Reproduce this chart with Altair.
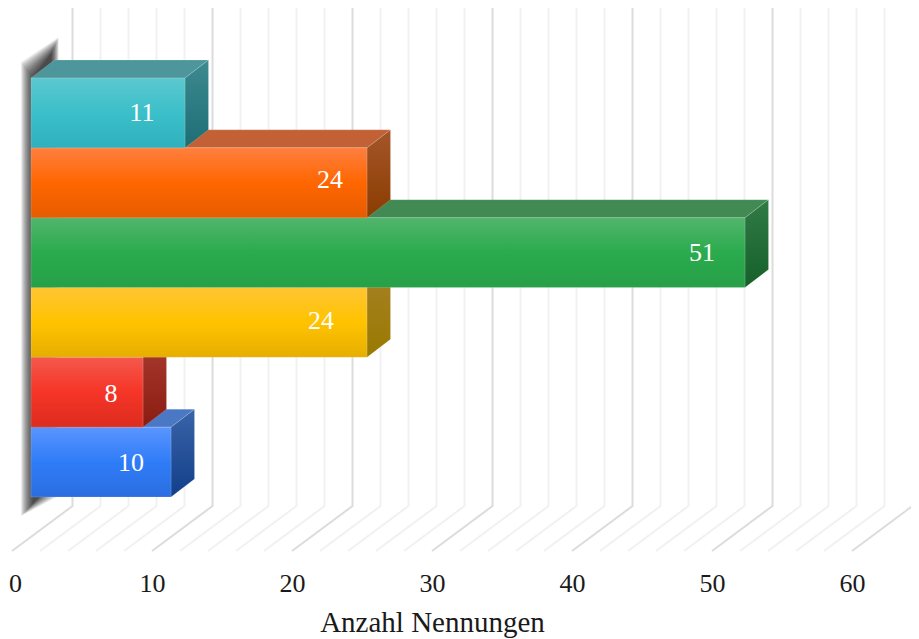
import altair as alt
import pandas as pd

# bottom-to-top drawing order
values = [10, 8, 24, 51, 24, 11]
front_stops = [
    ["#5a95ff", "#2f7cf8", "#2a6ee0"],
    ["#f5584d", "#f53527", "#dd2c1f"],
    ["#ffc533", "#ffc300", "#e6ae00"],
    ["#52b56c", "#2aab4d", "#27a048"],
    ["#ff7f3f", "#ff6600", "#e65c00"],
    ["#5cc8cf", "#3bbfc9", "#2fb1bd"],
]
top_colors = ["#4a78c4", "#b03a30", "#b38a20", "#428a54", "#c26036", "#4d969c"]
side_stops = [
    ["#3a64a8", "#123f8a"],
    ["#a83a2e", "#8a1c12"],
    ["#a78025", "#997a00"],
    ["#2f7a45", "#16602c"],
    ["#a5562a", "#8a3c00"],
    ["#3d8a90", "#1e6e76"],
]
label_dx = [-40, -32, -46, -43, -37, -43]
label_dy = [1, 2, -1, 0, -3, 0]
tick_values = [0, 10, 20, 30, 40, 50, 60]
minor_values = [v for v in range(0, 62, 2) if v % 10 != 0]
axis_title = "Anzahl Nennungen"

FONT = "Liberation Serif"
PX_X = 14.0           # pixels per unit on x
ROW = 69.83           # pixels per bar
W, H = 903, 544
x_dom = [-4 / PX_X, (W - 4) / PX_X]
y_dom = [(497 - (H + 8)) / ROW, (497 - 8) / ROW]
xs = alt.Scale(domain=x_dom, nice=False, zero=False)
ys = alt.Scale(domain=y_dom, nice=False, zero=False)

# depth offsets in data units
bar_x0 = 19 / PX_X
depth_x = 23.5 / PX_X
depth_y = 18 / ROW
floor_front = -54 / ROW
floor_back = -9 / ROW
floor_dx = 60.5 / PX_X
wall_top = y_dom[1]

x_axis = alt.Axis(values=tick_values, grid=False, domain=False, ticks=False,
                  labelFont=FONT, labelFontSize=26, labelColor="#1a1a1a",
                  labelPadding=18, labelFlush=False, labelOverlap=False,
                  labelOffset={"condition": {"test": "datum.value === 0", "value": 3}, "value": 0},
                  format="d", title=axis_title,
                  titleFont=FONT, titleFontSize=29, titleFontWeight="normal",
                  titleColor="#1a1a1a", titleX=424, titleY=79,
                  titleBaseline="alphabetic")


def X(field="x"):
    return alt.X(f"{field}:Q", scale=xs, axis=x_axis)


def Y(field="y"):
    return alt.Y(f"{field}:Q", scale=ys, axis=None)


def grid(vals, color, width):
    rows = []
    for v in vals:
        rows += [
            dict(g=v, o=0, x=v, y=floor_front),
            dict(g=v, o=1, x=v + floor_dx, y=floor_back),
            dict(g=v, o=2, x=v + floor_dx, y=wall_top),
        ]
    return alt.Chart(pd.DataFrame(rows)).mark_line(color=color, strokeWidth=width).encode(
        x=X(), y=Y(), detail="g:N", order="o:Q",
    )


def grad(stops):
    n = len(stops) - 1
    return alt.Gradient(
        gradient="linear", x1=0, y1=0, x2=0, y2=1,
        stops=[alt.GradientStop(offset=i / n, color=c) for i, c in enumerate(stops)],
    )


layers = [grid(minor_values, "#f1f1f1", 2), grid(tick_values, "#dcdcdc", 2)]

# soft shadow of the side wall, built from stacked translucent shapes
n = len(values)
for b in range(-6, 7):
    sh = pd.DataFrame({
        "x": [bar_x0 + (-4 - b) / PX_X, bar_x0 + (24 + b * 0.6) / PX_X],
        "y": [n + (8 + b * 1.3) / ROW, n + (33 + b * 1.3) / ROW],
        "y2": [(-13 - b) / ROW, (7 - b) / ROW],
    })
    layers.append(alt.Chart(sh).mark_area(orient="vertical", fill="#000000", opacity=0.085).encode(
        x=X(), y=Y(), y2="y2:Q",
    ))

edge = dict(stroke="#ffffff", strokeOpacity=0.15, strokeWidth=1)
for i, v in enumerate(values):
    xl, xr = bar_x0, bar_x0 + v
    r0, r1 = i, i + 1
    top = pd.DataFrame({"y": [r1, r1 + depth_y],
                        "x": [xl, xl + depth_x], "x2": [xr, xr + depth_x]})
    layers.append(alt.Chart(top).mark_area(orient="horizontal", fill=top_colors[i], **edge).encode(
        y=Y(), x=X(), x2="x2:Q",
    ))
    side = pd.DataFrame({"x": [xr, xr + depth_x],
                         "y": [r1, r1 + depth_y], "y2": [r0, r0 + depth_y]})
    layers.append(alt.Chart(side).mark_area(orient="vertical", fill=grad(side_stops[i]), **edge).encode(
        x=X(), y=Y(), y2="y2:Q",
    ))
    face = pd.DataFrame({"x": [xl], "x2": [xr], "y": [r1], "y2": [r0]})
    layers.append(alt.Chart(face).mark_rect(fill=grad(front_stops[i]), **edge).encode(
        x=X(), x2="x2:Q", y=Y(), y2="y2:Q",
    ))

for i, v in enumerate(values):
    lab = pd.DataFrame({"x": [bar_x0 + v], "y": [i + 0.5], "t": [str(v)]})
    layers.append(alt.Chart(lab).mark_text(
        font=FONT, fontSize=26, color="#ffffff", align="center", baseline="middle",
        dx=label_dx[i], dy=label_dy[i],
    ).encode(x=X(), y=Y(), text="t:N"))

chart = alt.layer(*layers).properties(
    width=W, height=H, background="#ffffff",
    padding={"left": 0, "top": 0, "right": 0, "bottom": 87},
    autosize=alt.AutoSizeParams(type="none"),
).configure_view(stroke=None)

chart.save("out.html", embed_options={"renderer": "svg", "actions": False})
